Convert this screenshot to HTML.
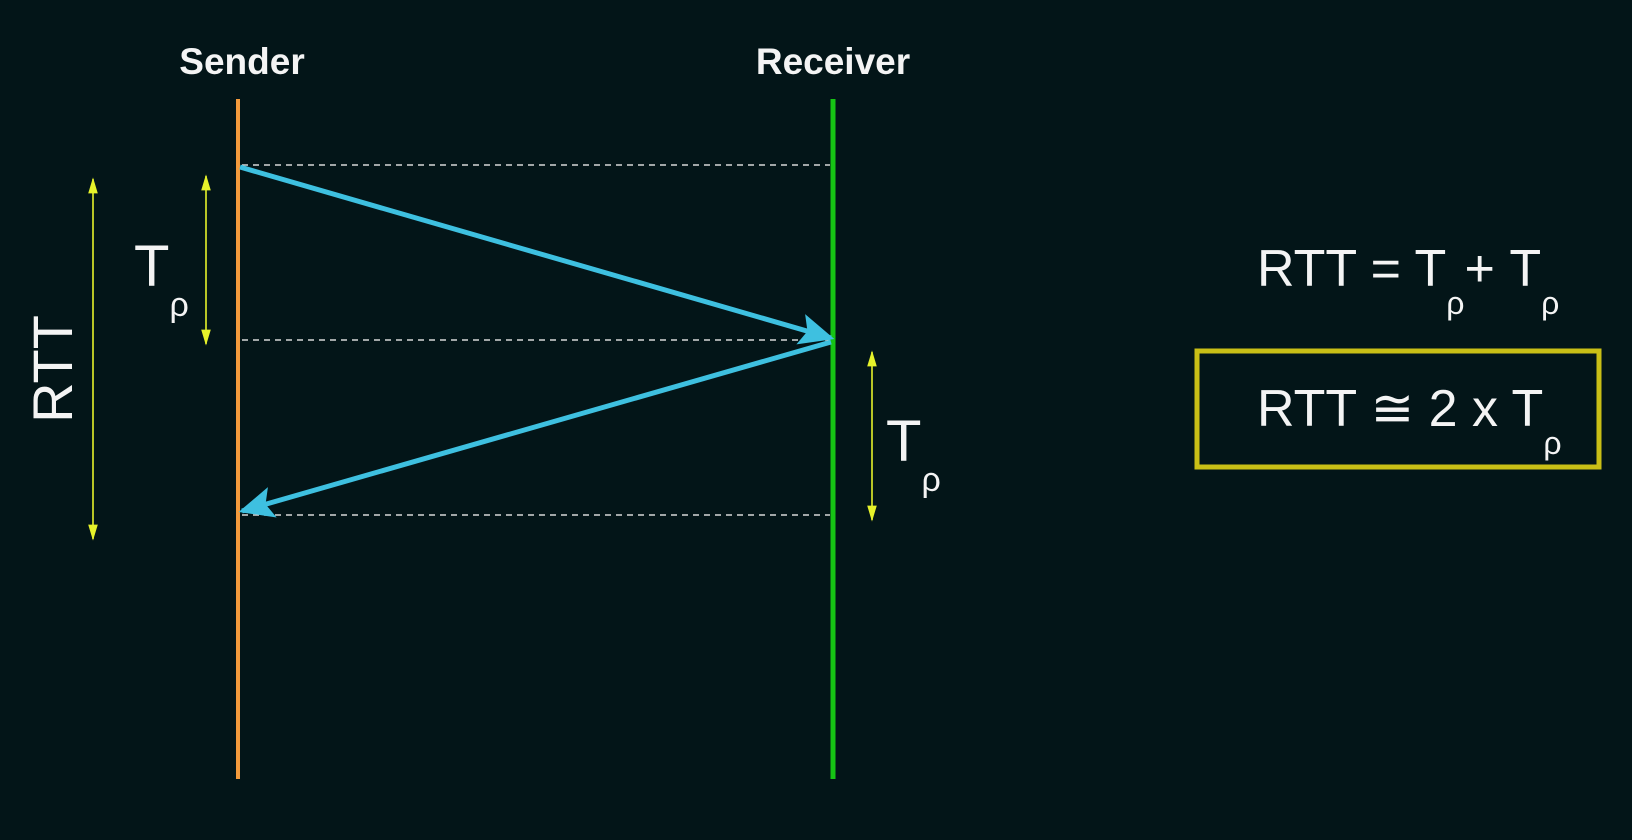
<!DOCTYPE html>
<html><head><meta charset="utf-8"><style>
html,body{margin:0;padding:0;background:#031518;}
svg{display:block}
text{font-family:"Liberation Sans",sans-serif;fill:#f4f4f4}
</style></head><body>
<svg width="1632" height="840" viewBox="0 0 1632 840">
<defs>
<marker id="ah" viewBox="0 0 10 10" refX="9" refY="5" markerWidth="7" markerHeight="7" orient="auto"><path d="M0,0.5 L10,5 L0,9.5 L2,5 z" fill="#3ec0e0"/></marker>
<marker id="ya" viewBox="0 0 10 10" refX="9" refY="5" markerWidth="10" markerHeight="10" orient="auto-start-reverse"><path d="M0,2 L10,5 L0,8 z" fill="#e6f22a"/></marker>
</defs>
<rect width="1632" height="840" fill="#031518"/>
<text x="242" y="74" font-size="37" font-weight="bold" text-anchor="middle">Sender</text>
<text x="833" y="74" font-size="37" font-weight="bold" text-anchor="middle">Receiver</text>
<line x1="238" y1="99" x2="238" y2="779" stroke="#f39a3c" stroke-width="4"/>
<line x1="833" y1="99" x2="833" y2="779" stroke="#16c414" stroke-width="5"/>
<g stroke="#d8d8d8" stroke-width="1.5" stroke-dasharray="6,5">
<line x1="242" y1="165" x2="830" y2="165"/>
<line x1="242" y1="340" x2="830" y2="340"/>
<line x1="242" y1="515" x2="830" y2="515"/>
</g>
<line x1="240" y1="167" x2="831" y2="338" stroke="#3ec0e0" stroke-width="5" marker-end="url(#ah)"/>
<line x1="831" y1="342" x2="242" y2="511" stroke="#3ec0e0" stroke-width="5" marker-end="url(#ah)"/>
<g stroke="#e6f22a" stroke-width="1.6">
<line x1="93" y1="179" x2="93" y2="539" marker-start="url(#ya)" marker-end="url(#ya)"/>
<line x1="206" y1="176" x2="206" y2="344" marker-start="url(#ya)" marker-end="url(#ya)"/>
<line x1="872" y1="352" x2="872" y2="520" marker-start="url(#ya)" marker-end="url(#ya)"/>
</g>
<text transform="translate(72,369) rotate(-90)" font-size="56" text-anchor="middle">RTT</text>
<text x="134" y="286" font-size="58">T<tspan font-size="34" dy="30">ρ</tspan></text>
<text x="886" y="461" font-size="58">T<tspan font-size="34" dy="30">ρ</tspan></text>
<text x="1257" y="286" font-size="52">RTT = T<tspan font-size="32" dy="28">ρ</tspan><tspan dy="-28">+ T</tspan><tspan font-size="32" dy="28">ρ</tspan></text>
<rect x="1197" y="351" width="402" height="116" fill="none" stroke="#c9bf16" stroke-width="5"/>
<text x="1257" y="426" font-size="52">RTT ≅ 2 x T<tspan font-size="32" dy="28">ρ</tspan></text>
</svg>
</body></html>
